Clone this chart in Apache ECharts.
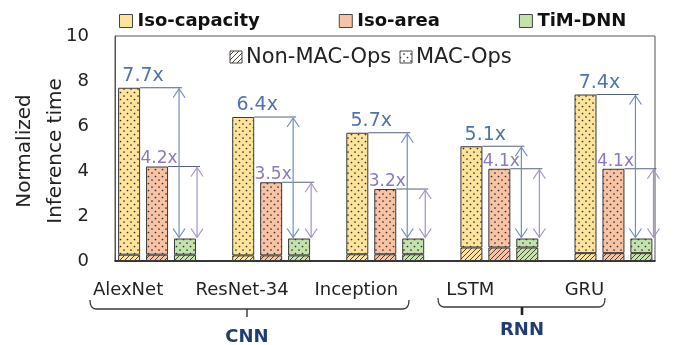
<!DOCTYPE html>
<html>
<head>
<meta charset="utf-8">
<script src="https://cdn.jsdelivr.net/npm/echarts@6/dist/echarts.min.js"></script>
<style>
  html, body { margin: 0; padding: 0; background: #ffffff; }
  #chart { width: 675px; height: 345px; }
</style>
</head>
<body>
<div id="chart"></div>
<script>
// Workloads on the x axis
const categories = ['AlexNet', 'ResNet-34', 'Inception', 'LSTM', 'GRU'];
// Normalized inference time (TiM-DNN = 1)
const isoCapacityTotal = [7.7, 6.4, 5.7, 5.1, 7.4];
const isoAreaTotal = [4.2, 3.5, 3.2, 4.1, 4.1];
const timDnnTotal = [1.0, 1.0, 1.0, 1.0, 1.0];
// Share of time spent in non-MAC operations
const isoCapacityNonMac = [0.28, 0.25, 0.3, 0.6, 0.35];
const isoAreaNonMac = [0.28, 0.25, 0.3, 0.6, 0.35];
const timDnnNonMac = [0.28, 0.25, 0.3, 0.6, 0.35];
// Y-axis ticks
const yTicks = [0, 2, 4, 6, 8, 10];
// Group labels underneath the axis
const groupNames = ['CNN', 'RNN'];

const FONT = 'DejaVu Sans';
const COLORS = { cap: '#fde49a', area: '#f8c3a4', tim: '#c4e2ab' };

// Fill patterns: dotted for MAC-Ops, hatched for Non-MAC-Ops
function dottedPattern(fill) {
  const c = document.createElement('canvas');
  c.width = 7; c.height = 7;
  const g = c.getContext('2d');
  g.fillStyle = fill; g.fillRect(0, 0, 7, 7);
  g.fillStyle = '#2b2b2b';
  [[1.5, 1.5], [5, 5]].forEach(([x, y]) => {
    g.beginPath(); g.arc(x, y, 0.85, 0, Math.PI * 2); g.fill();
  });
  return { image: c, repeat: 'repeat' };
}
function hatchPattern(fill) {
  const c = document.createElement('canvas');
  c.width = 5; c.height = 5;
  const g = c.getContext('2d');
  g.fillStyle = fill; g.fillRect(0, 0, 5, 5);
  g.strokeStyle = '#4d4330'; g.lineWidth = 1;
  g.beginPath();
  g.moveTo(-1, 6); g.lineTo(6, -1);
  g.moveTo(-1, 1); g.lineTo(1, -1);
  g.moveTo(4, 6); g.lineTo(6, 4);
  g.stroke();
  return { image: c, repeat: 'repeat' };
}

const mac = (tot, non) => tot.map((v, i) => +(v - non[i]).toFixed(3));
const BORDER = { borderColor: '#3a3a3a', borderWidth: 1 };

function barPair(name, key, total, nonMac) {
  return [
    {
      name: name + ' non-MAC', type: 'bar', stack: key, xAxisIndex: 1, yAxisIndex: 1,
      barWidth: 22, barGap: '27%', data: nonMac, silent: true,
      itemStyle: Object.assign({ color: hatchPattern(COLORS[key]) }, BORDER)
    },
    {
      name: name, type: 'bar', stack: key, xAxisIndex: 1, yAxisIndex: 1,
      barWidth: 22, barGap: '27%', data: mac(total, nonMac), silent: true,
      itemStyle: Object.assign({ color: dottedPattern(COLORS[key]) }, BORDER)
    }
  ];
}

const chart = echarts.init(document.getElementById('chart'), null, { renderer: 'canvas' });

// Speed-up arrows and labels, positioned from the bar values
function renderSpeedup(params, api) {
  const i = api.value(0);
  const cap = api.value(1), area = api.value(2), tim = api.value(3);
  const [cx, yCap] = api.coord([i, cap]);
  const yArea = api.coord([i, area])[1];
  const yTim = api.coord([i, tim])[1];
  const step = 28, half = 11;
  const blueX = cx + step - 6;
  const purpleX = cx + step + 12;
  const blue = '#6f8dc2', purple = '#a591cb';
  function arrow(x, yTop, yBot, color) {
    const s = { stroke: color, lineWidth: 1.2, fill: null };
    return [
      { type: 'line', shape: { x1: x, y1: yTop + 1, x2: x, y2: yBot - 1 }, style: s },
      { type: 'polyline', shape: { points: [[x - 6, yTop + 10], [x, yTop + 1], [x + 6, yTop + 10]] }, style: s },
      { type: 'polyline', shape: { points: [[x - 6, yBot - 10], [x, yBot - 1], [x + 6, yBot - 10]] }, style: s }
    ];
  }
  const children = [
    { type: 'line', shape: { x1: cx - step + half, y1: yCap, x2: blueX + 3, y2: yCap }, style: { stroke: '#56607a', lineWidth: 1 } },
    { type: 'line', shape: { x1: cx + half, y1: yArea, x2: purpleX + 3, y2: yArea }, style: { stroke: '#56607a', lineWidth: 1 } }
  ].concat(arrow(blueX, yCap, yTim, blue), arrow(purpleX, yArea, yTim, purple));
  children.push({
    type: 'text',
    style: { text: (cap / tim).toFixed(1) + 'x', x: cx - 14, y: yCap - 2, fill: '#4e73ad',
      font: '19px "' + FONT + '"', align: 'center', verticalAlign: 'bottom' }
  });
  children.push({
    type: 'text',
    style: { text: (area / tim).toFixed(1) + 'x', x: cx + 2, y: yArea + 1, fill: '#8b79bd',
      font: '17px "' + FONT + '"', align: 'center', verticalAlign: 'bottom' }
  });
  return { type: 'group', children: children };
}

// Curly brace under a group of categories
function brace(x1, x2, y, xm, tickW) {
  const s = { stroke: '#3a3a3a', lineWidth: 1.3, fill: null };
  return [
    { type: 'bezierCurve', shape: { x1: x1, y1: y - 9, cpx1: x1, cpy1: y, x2: x1 + 6, y2: y }, style: s },
    { type: 'line', shape: { x1: x1 + 6, y1: y, x2: x2 - 6, y2: y }, style: s },
    { type: 'bezierCurve', shape: { x1: x2 - 6, y1: y, cpx1: x2, cpy1: y, x2: x2, y2: y - 9 }, style: s },
    { type: 'line', shape: { x1: xm, y1: y, x2: xm, y2: y + 8 }, style: { stroke: '#222', lineWidth: tickW } }
  ];
}

const legendSwatch = (x, y, pattern) => ({
  type: 'rect', shape: { x: x, y: y, width: 12, height: 12 },
  style: { fill: pattern, stroke: '#444', lineWidth: 1 }
});

const option = {
  animation: false,
  backgroundColor: '#ffffff',
  textStyle: { fontFamily: FONT },
  legend: {
    left: 114, top: 7, itemWidth: 13, itemHeight: 13, itemGap: 79, selectedMode: false,
    icon: 'rect',
    textStyle: { fontFamily: FONT, fontWeight: 'bold', fontSize: 18, color: '#111' },
    data: [
      { name: 'Iso-capacity', itemStyle: { color: COLORS.cap, borderColor: '#444', borderWidth: 1 } },
      { name: 'Iso-area', itemStyle: { color: COLORS.area, borderColor: '#444', borderWidth: 1 } },
      { name: 'TiM-DNN', itemStyle: { color: COLORS.tim, borderColor: '#444', borderWidth: 1 } }
    ]
  },
  grid: [
    { left: 115, right: 20, top: 36, bottom: 84, show: true, borderColor: '#555', borderWidth: 1 },
    { left: 100, right: 4.5, top: 36, bottom: 84 }
  ],
  xAxis: [
    { gridIndex: 0, type: 'value', min: 0, max: 1, axisLine: { show: true, lineStyle: { color: '#111', width: 1.5 } },
      axisTick: { show: false }, axisLabel: { show: false }, splitLine: { show: false } },
    { gridIndex: 1, type: 'category', data: categories, axisLine: { show: false }, axisTick: { show: false },
      axisLabel: { interval: 0, hideOverlap: false, fontSize: 18, color: '#222', fontFamily: FONT, margin: 20, padding: [0, 58, 0, 0] } }
  ],
  yAxis: [
    { gridIndex: 0, type: 'value', min: yTicks[0], max: yTicks[yTicks.length - 1], interval: 2,
      axisLine: { show: true, lineStyle: { color: '#555', width: 1 } }, axisTick: { show: false },
      splitLine: { show: false },
      axisLabel: { fontSize: 18, color: '#222', fontFamily: FONT, margin: 26 } },
    { gridIndex: 1, type: 'value', min: yTicks[0], max: yTicks[yTicks.length - 1], show: false }
  ],
  series: [].concat(
    barPair('Iso-capacity', 'cap', isoCapacityTotal, isoCapacityNonMac),
    barPair('Iso-area', 'area', isoAreaTotal, isoAreaNonMac),
    barPair('TiM-DNN', 'tim', timDnnTotal, timDnnNonMac),
    [{
      type: 'custom', name: 'speedup', xAxisIndex: 1, yAxisIndex: 1, silent: true, z: 5,
      encode: { x: 0, y: 1 },
      data: categories.map((c, i) => [i, isoCapacityTotal[i], isoAreaTotal[i], timDnnTotal[i]]),
      renderItem: renderSpeedup
    }]
  ),
  graphic: [
    {
      type: 'text', x: 40, y: 151, rotation: Math.PI / 2,
      style: { text: 'Normalized\nInference time', font: '20px "' + FONT + '"', fill: '#222',
        align: 'center', verticalAlign: 'middle', lineHeight: 31 }
    },
    legendSwatch(230, 51, hatchPattern('#ffffff')),
    { type: 'text', x: 246, y: 57.5, style: { text: 'Non-MAC-Ops', font: '21px "' + FONT + '"', fill: '#222', verticalAlign: 'middle' } },
    legendSwatch(400, 51, dottedPattern('#ffffff')),
    { type: 'text', x: 416, y: 57.5, style: { text: 'MAC-Ops', font: '21px "' + FONT + '"', fill: '#222', verticalAlign: 'middle' } },
    ...brace(90, 409, 309, 247, 1.3),
    ...brace(438, 605, 307, 522, 2.6),
    { type: 'text', x: 247, y: 337, style: { text: groupNames[0], font: 'bold 18px "' + FONT + '"', fill: '#1f3c73', align: 'center', verticalAlign: 'middle' } },
    { type: 'text', x: 522, y: 330, style: { text: groupNames[1], font: 'bold 18px "' + FONT + '"', fill: '#1f3c73', align: 'center', verticalAlign: 'middle' } }
  ]
};

chart.setOption(option);
</script>
</body>
</html>
